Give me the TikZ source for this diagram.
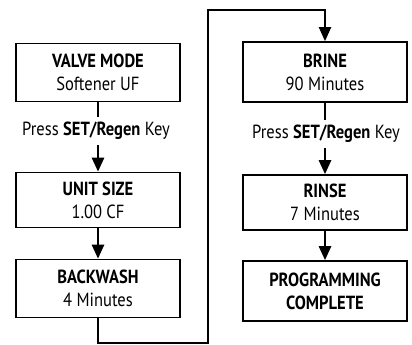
\documentclass[tikz,border=0pt]{standalone}
\usepackage{fontspec}
\setmainfont{PT Sans}[FakeStretch=0.87]
\usetikzlibrary{arrows.meta}

\begin{document}
\begin{tikzpicture}
    [x=1pt, y=1pt,
    stepbox/.style={draw,line width=1.6pt,minimum width=164pt,minimum height=58pt,align=center,inner sep=0pt,font=\fontsize{19}{23}\selectfont},
    press/.style={inner sep=5pt,font=\fontsize{19}{20}\selectfont},
    link/.style={line width=2.6pt},
    flow/.style={link,-{Triangle[width=12pt,length=14pt]}},
    jump/.style={line width=2pt,-{Triangle[width=12pt,length=14pt]}}
    ]

    \useasboundingbox (0,0) rectangle (412,345);

    \def \lx {98}
    \def \rx {325}

    % left column
    \node[stepbox] (valve) at (\lx,272.5) {\textbf{VALVE MODE}\\Softener UF};
    \node[press] (pressa) at (\lx-2,214) {Press \textbf{SET/Regen} Key};
    \node[stepbox,minimum height=55pt] (unit) at (\lx,145) {\textbf{UNIT SIZE}\\1.00 CF};
    \node[stepbox] (backwash) at (\lx,56.5) {\textbf{BACKWASH}\\4 Minutes};

    % right column
    \node[stepbox,minimum height=60pt] (brine) at (\rx,273) {\textbf{BRINE}\\90 Minutes};
    \node[press] (pressb) at (\rx+1,211) {Press \textbf{SET/Regen} Key};
    \node[stepbox,minimum height=55pt] (rinse) at (\rx,142.5) {\textbf{RINSE}\\7 Minutes};
    \node[stepbox,minimum height=60pt] (complete) at (\rx,54) {\textbf{PROGRAMMING}\\\textbf{COMPLETE}};

    % connectors
    \coordinate (low) at (208,2);
    \coordinate (high) at (208,335);

    \draw[link] (valve.south) -- (valve.south |- pressa.north);
    \draw[flow] (valve.south |- pressa.south) -- (unit.north);
    \draw[flow] (unit) -- (backwash);
    \draw[jump] (backwash.south) |- (low) -- (high) -| (brine.north);
    \draw[link] (brine.south) -- (brine.south |- pressb.north);
    \draw[flow] (brine.south |- pressb.south) -- (rinse.north);
    \draw[flow] (rinse) -- (complete);
\end{tikzpicture}
\end{document}
